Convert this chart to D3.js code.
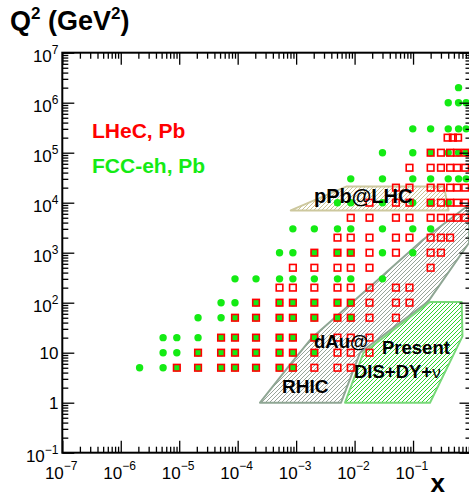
<!DOCTYPE html>
<html>
<head>
<meta charset="utf-8">
<script src="https://cdnjs.cloudflare.com/ajax/libs/d3/7.8.5/d3.min.js"></script>
<style>
body { margin: 0; background: #fff; }
svg { display: block; font-family: "Liberation Sans", Arial, sans-serif; }
</style>
</head>
<body>
<div id="chart"></div>
<script>
// x columns of the pseudo-data grids
const fccX = [2.1e-6, 5.3e-6, 9.1e-6, 2.1e-5, 5.2e-5, 9.0e-5, 2.06e-4, 5.2e-4, 8.8e-4, 2.05e-3, 5.1e-3, 8.6e-3, 0.030, 0.099, 0.20, 0.40, 0.60, 0.81];
const lhecX = [9.1e-6, 2.1e-5, 5.2e-5, 9.0e-5, 2.06e-4, 5.2e-4, 8.8e-4, 2.05e-3, 5.1e-3, 8.6e-3, 0.018, 0.051, 0.087, 0.20, 0.30, 0.43, 0.57, 0.78, 0.39, 0.48, 0.59];

// Q2 rows and which x columns (1-based) are filled in each row
const fccQ2 = [5, 10, 20, 50, 100, 300, 1000, 3000, 1e4, 3e4, 1e5, 3e5, 1e6, 2e6];
const fccCols = [
  [1, 2, 3, 4, 5, 6, 7, 8, 9],
  [2, 3, 4, 5, 6, 7, 8, 9, 10],
  [2, 3, 4, 5, 6, 7, 8, 9, 10],
  [4, 5, 6, 7, 8, 9, 10, 11, 12],
  [5, 6, 7, 8, 9, 10, 11, 12],
  [6, 7, 8, 9, 10, 11, 12, 13],
  [8, 9, 10, 11, 12, 13, 14],
  [9, 10, 11, 12, 13, 14, 15],
  [11, 12, 13, 14, 15, 16],
  [12, 13, 14, 15, 16, 17, 18],
  [13, 14, 15, 16, 17, 18],
  [14, 15, 16, 17, 18],
  [16, 17, 18],
  [17]
];
const lhecQ2 = [5, 10, 20, 50, 100, 200, 500, 1000, 2000, 5000, 1e4, 2e4, 5e4, 1e5, 2e5];
const lhecCols = [
  [1, 2, 3, 4, 5, 6, 7, 8, 9, 10],
  [2, 3, 4, 5, 6, 7, 8, 9, 10, 11],
  [3, 4, 5, 6, 7, 8, 9, 10, 11],
  [4, 5, 6, 7, 8, 9, 10, 11, 12],
  [5, 6, 7, 8, 9, 10, 11, 12, 13],
  [6, 7, 8, 9, 10, 11, 12, 13],
  [7, 8, 9, 10, 11, 14],
  [8, 9, 10, 11, 12, 14, 15],
  [9, 10, 11, 12, 13, 14, 15, 16],
  [10, 11, 12, 13, 14, 15, 16, 17, 18],
  [11, 12, 13, 14, 15, 16, 17, 18],
  [12, 13, 14, 15, 16, 17, 18],
  [13, 14, 15, 16, 17, 18],
  [14, 15, 16, 17, 18],
  [19, 20, 21]
];

// existing data regions (outline vertices)
const pPbX = [8.1e-4, 7.35e-3, 0.339, 0.405];
const pPbQ2 = [7.0e3, 2.12e4, 2.12e4, 7.0e3];
const dAuX = [2.41e-4, 7.87e-4, 1.87e-3, 0.0184, 0.148, 0.908, 0.908, 0.181, 0.0124, 5.86e-3];
const dAuQ2 = [1.0, 5.75, 20, 209, 1820, 9120, 1585, 105, 10, 1.0];
const disX = [6.87e-3, 0.0141, 0.195, 0.68, 0.70, 0.195];
const disQ2 = [1.0, 9.86, 103, 103, 21.2, 1.0];

const xDecades = [-7, -6, -5, -4, -3, -2, -1];
const yDecades = [7, 6, 5, 4, 3, 2, 1, 0, -1];

const width = 469, height = 495;
const mLeft = 62.3, mRight = 471.5, mTop = 52.7, mBottom = 452.7;

const svg = d3.select("#chart").append("svg")
  .attr("width", width)
  .attr("height", height);

const x = d3.scaleLog().domain([1e-7, 1]).range([mLeft, mRight]);
const y = d3.scaleLog().domain([0.1, 1e7]).range([mBottom, mTop]);

const defs = svg.append("defs");
defs.append("clipPath").attr("id", "plot")
  .append("rect").attr("x", mLeft).attr("y", mTop)
  .attr("width", mRight - mLeft).attr("height", mBottom - mTop);

function hatch(id, color, w) {
  const p = defs.append("pattern").attr("id", id)
    .attr("patternUnits", "userSpaceOnUse")
    .attr("width", 4).attr("height", 4);
  p.append("path")
    .attr("d", "M-1,1 l2,-2 M0,4 l4,-4 M3,5 l2,-2")
    .attr("stroke", color).attr("stroke-width", w);
}
hatch("hGray", "#8c9a8f", 0.9);
hatch("hGreen", "#2fd42f", 1.0);
hatch("hKhaki", "#c9c393", 1.0);

const plot = svg.append("g").attr("clip-path", "url(#plot)");

const outline = d3.line().x(d => x(d[0])).y(d => y(d[1]));

function region(xs, qs, fill, stroke) {
  plot.append("path")
    .attr("d", outline(d3.zip(xs, qs)) + "Z")
    .attr("fill", fill)
    .attr("stroke", stroke)
    .attr("stroke-width", 2)
    .attr("stroke-linejoin", "round");
}
region(dAuX, dAuQ2, "url(#hGray)", "#8fa694");
region(disX, disQ2, "url(#hGreen)", "#79d879");
region(pPbX, pPbQ2, "url(#hKhaki)", "#cdc89e");

// points
const fccPts = [];
fccQ2.forEach((q, i) => fccCols[i].forEach(c => fccPts.push([fccX[c - 1], q])));
const lhecPts = [];
lhecQ2.forEach((q, i) => lhecCols[i].forEach(c => lhecPts.push([lhecX[c - 1], q])));

plot.selectAll(".fcc").data(fccPts).enter().append("circle")
  .attr("class", "fcc")
  .attr("cx", d => x(d[0]))
  .attr("cy", d => y(d[1]))
  .attr("r", 3.7)
  .attr("fill", "#14eb14");

const sq = 6.6;
plot.selectAll(".lhec").data(lhecPts).enter().append("rect")
  .attr("class", "lhec")
  .attr("x", d => x(d[0]) - sq / 2)
  .attr("y", d => y(d[1]) - sq / 2)
  .attr("width", sq).attr("height", sq)
  .attr("fill", "none")
  .attr("stroke", "#ff0000")
  .attr("stroke-width", 1.6);

// axes: major and minor ticks on all four sides
const majX = xDecades.map(e => Math.pow(10, e)).concat([1]);
const minX = x.ticks().filter(v => Math.abs(Math.log10(v) - Math.round(Math.log10(v))) > 1e-6);
const majY = yDecades.map(e => Math.pow(10, e));
const minY = y.ticks().filter(v => Math.abs(Math.log10(v) - Math.round(Math.log10(v))) > 1e-6);

function ticks(axisFn, scale, vals, size, tr) {
  svg.append("g").attr("transform", tr)
    .call(axisFn(scale).tickValues(vals).tickSizeInner(-size).tickSizeOuter(0).tickFormat(""))
    .call(g => g.select(".domain").remove())
    .call(g => g.selectAll("line").attr("stroke", "#000").attr("stroke-width", 1.3));
}
ticks(d3.axisBottom, x, majX, 12, `translate(0,${mBottom})`);
ticks(d3.axisBottom, x, minX, 6, `translate(0,${mBottom})`);
ticks(d3.axisTop, x, majX, 12, `translate(0,${mTop})`);
ticks(d3.axisTop, x, minX, 6, `translate(0,${mTop})`);
ticks(d3.axisLeft, y, majY, 12, `translate(${mLeft},0)`);
ticks(d3.axisLeft, y, minY, 6, `translate(${mLeft},0)`);
ticks(d3.axisRight, y, majY, 12, `translate(${mRight},0)`);
ticks(d3.axisRight, y, minY, 6, `translate(${mRight},0)`);

svg.append("rect")
  .attr("x", mLeft).attr("y", mTop)
  .attr("width", mRight - mLeft).attr("height", mBottom - mTop)
  .attr("fill", "none").attr("stroke", "#000").attr("stroke-width", 2);

// x tick labels
xDecades.forEach(e => {
  const px = x(Math.pow(10, e));
  svg.append("text").attr("x", px + 1.5).attr("y", 478.5)
    .attr("text-anchor", "end").attr("font-size", 17).text("10");
  svg.append("text").attr("x", px + 1.5).attr("y", 470)
    .attr("font-size", 12).text("\u2212" + (-e));
});

// y tick labels
yDecades.forEach(e => {
  const py = y(Math.pow(10, e));
  if (e === 0 || e === 1) {
    svg.append("text").attr("x", 58.5).attr("y", py + 6.2)
      .attr("text-anchor", "end").attr("font-size", 17).text(e === 0 ? "1" : "10");
  } else {
    const t = svg.append("text").attr("x", 58.5).attr("y", py + 9)
      .attr("text-anchor", "end").attr("font-size", 17);
    t.append("tspan").text("10");
    t.append("tspan").attr("dy", -8).attr("font-size", 12)
      .text(e < 0 ? "\u2212" + (-e) : String(e));
  }
});

// axis titles
const qt = svg.append("text").attr("x", 10).attr("y", 29.5)
  .attr("font-size", 27).attr("font-weight", "bold");
qt.append("tspan").text("Q");
qt.append("tspan").attr("dy", -11).attr("font-size", 17).text("2");
qt.append("tspan").attr("dy", 11).text(" (GeV");
qt.append("tspan").attr("dy", -11).attr("font-size", 17).text("2");
qt.append("tspan").attr("dy", 11).text(")");

svg.append("text").attr("x", 430.5).attr("y", 491.5)
  .attr("font-size", 26).attr("font-weight", "bold").text("x");

// legend
svg.append("text").attr("x", 92).attr("y", 138)
  .attr("font-size", 21).attr("font-weight", "bold")
  .attr("fill", "#ff0000").text("LHeC, Pb");
svg.append("text").attr("x", 92).attr("y", 173)
  .attr("font-size", 21).attr("font-weight", "bold")
  .attr("fill", "#14eb14").text("FCC-eh, Pb");

// region labels
function label(txt, px, py, size) {
  svg.append("text").attr("x", px).attr("y", py)
    .attr("font-size", size).attr("font-weight", "bold").text(txt);
}
label("pPb@LHC", 314, 203, 20);
label("dAu@", 314, 348, 18.5);
label("RHIC", 282, 393, 19);
label("Present", 382, 354, 18.5);
const dis = svg.append("text").attr("x", 354).attr("y", 378)
  .attr("font-size", 18.5).attr("font-weight", "bold");
dis.append("tspan").text("DIS+DY+");
dis.append("tspan").attr("font-weight", "normal").attr("font-size", 17).text("\u03bd");
</script>
</body>
</html>
